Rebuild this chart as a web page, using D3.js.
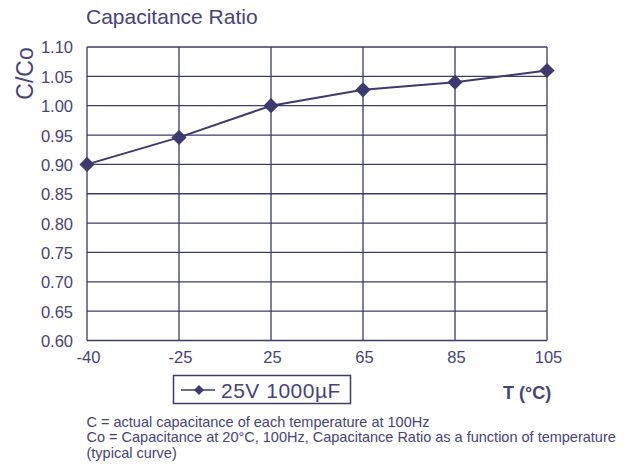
<!DOCTYPE html>
<html>
<head>
<meta charset="utf-8">
<script src="https://cdnjs.cloudflare.com/ajax/libs/d3/7.8.5/d3.min.js"></script>
<style>
  body { margin: 0; background: #fff; }
  text { font-family: "Liberation Sans", Arial, sans-serif; fill: #45437a; }
</style>
</head>
<body>
<div id="chart"></div>
<script>
// chart data
var temps = ['-40', '-25', '25', '65', '85', '105']
var ratio = [0.90, 0.946, 1.00, 1.027, 1.040, 1.060]
var yTicks = [0.60, 0.65, 0.70, 0.75, 0.80, 0.85, 0.90, 0.95, 1.00, 1.05, 1.10]
var seriesName = '25V 1000\u00b5F'
var notes = [
	'C = actual capacitance of each temperature at 100Hz',
	'Co = Capacitance at 20\u00b0C, 100Hz, Capacitance Ratio as a function of temperature',
	'(typical curve)'
]

var W = 633, H = 468
var ink = '#3c3a6e'
// plot box (note: "top" is reserved on window, so use plotTop)
var plotLeft = 87, plotRight = 547, plotTop = 47, plotBottom = 340.5

var svg = d3.select('#chart').append('svg')
	.attr('width', W)
	.attr('height', H)

var x = d3.scalePoint().domain(temps).range([plotLeft, plotRight])
var y = d3.scaleLinear().domain([0.60, 1.10]).range([plotBottom, plotTop])

// grid lines
svg.append('g').selectAll('line')
	.data(yTicks)
	.enter().append('line')
	.attr('x1', plotLeft).attr('x2', plotRight)
	.attr('y1', function(d) { return y(d) })
	.attr('y2', function(d) { return y(d) })
	.attr('stroke', ink).attr('stroke-width', 1.3)

svg.append('g').selectAll('line')
	.data(temps)
	.enter().append('line')
	.attr('y1', plotTop).attr('y2', plotBottom)
	.attr('x1', function(d) { return x(d) })
	.attr('x2', function(d) { return x(d) })
	.attr('stroke', ink).attr('stroke-width', 1.3)

// axes (labels only)
var yAxis = svg.append('g')
	.attr('transform', 'translate(' + (plotLeft - 14) + ',0)')
	.call(d3.axisLeft(y).tickValues(yTicks).tickFormat(d3.format('.2f')).tickSize(0).tickPadding(0))
yAxis.select('.domain').remove()
yAxis.selectAll('text').style('font-size', '16.5px').attr('dy', '0.36em')

var xAxis = svg.append('g')
	.attr('transform', 'translate(' + 1 + ',' + (plotBottom + 11) + ')')
	.call(d3.axisBottom(x).tickSize(0).tickPadding(0))
xAxis.select('.domain').remove()
xAxis.selectAll('text').style('font-size', '16.5px').attr('dy', '0.71em')

// series line and markers
var line = d3.line()
	.x(function(d, i) { return x(temps[i]) })
	.y(function(d) { return y(d) })

svg.append('path')
	.datum(ratio)
	.attr('d', line)
	.attr('fill', 'none')
	.attr('stroke', ink)
	.attr('stroke-width', 2)

var diamond = d3.symbol().type(d3.symbolSquare).size(115)
svg.append('g').selectAll('path')
	.data(ratio)
	.enter().append('path')
	.attr('d', diamond)
	.attr('transform', function(d, i) { return 'translate(' + x(temps[i]) + ',' + y(d) + ') rotate(45)' })
	.attr('fill', ink)

// titles
svg.append('text')
	.attr('x', 86).attr('y', 24)
	.style('font-size', '21px')
	.text('Capacitance Ratio')

svg.append('text')
	.attr('transform', 'translate(33,73.5) rotate(-90)')
	.attr('text-anchor', 'middle')
	.style('font-size', '23px')
	.text('C/Co')

svg.append('text')
	.attr('x', 503).attr('y', 398.5)
	.style('font-size', '18px')
	.style('font-weight', 'bold')
	.text('T (\u00b0C)')

// legend
var legend = svg.append('g')
legend.append('rect')
	.attr('x', 173.5).attr('y', 375.5)
	.attr('width', 177).attr('height', 28)
	.attr('fill', 'none')
	.attr('stroke', ink).attr('stroke-width', 1.5)
legend.append('line')
	.attr('x1', 181).attr('x2', 215)
	.attr('y1', 390).attr('y2', 390)
	.attr('stroke', ink).attr('stroke-width', 1.5)
legend.append('path')
	.attr('d', d3.symbol().type(d3.symbolSquare).size(50))
	.attr('transform', 'translate(199,390) rotate(45)')
	.attr('fill', ink)
legend.append('text')
	.attr('x', 221).attr('y', 397.5)
	.style('font-size', '21px')
	.style('letter-spacing', '0.5px')
	.text(seriesName)

// notes
svg.append('g').selectAll('text')
	.data(notes)
	.enter().append('text')
	.attr('x', 86.5)
	.attr('y', function(d, i) { return 426.5 + i * 15.8 })
	.style('font-size', '14.5px')
	.text(function(d) { return d })
</script>
</body>
</html>
